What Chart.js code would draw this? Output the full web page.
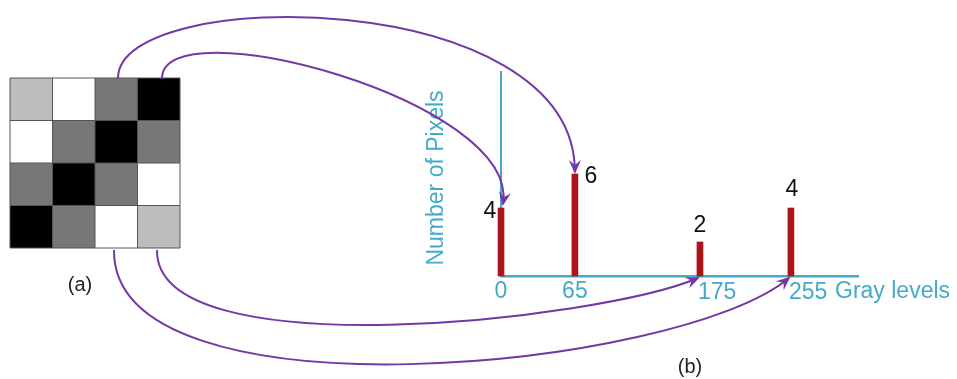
<!DOCTYPE html>
<html>
<head>
<meta charset="utf-8">
<script src="https://cdn.jsdelivr.net/npm/chart.js@4"></script>
<style>
  body { margin: 0; background: #fff; }
  #wrap { width: 957px; height: 379px; position: relative; }
</style>
</head>
<body>
<div id="wrap"><canvas id="myChart"></canvas></div>
<script>
// histogram data
const grayLevels = [0, 65, 175, 255];
const pixelCounts = [4, 6, 2, 4];
const tickLabels = ['0', '65', '175', '255'];

// the 4x4 image (a)
const imageRows = [
    [175, 255, 65, 0],
    [255, 65, 0, 65],
    [65, 0, 65, 255],
    [0, 65, 255, 175]
];

const blue = '#45a9c9';
const purple = '#7438a6';
const font = '"Liberation Sans", Arial, sans-serif';

//display shade for each gray level in the picture
function shadeFor(level) {
    if (level === 0) return '#000000';
    if (level === 65) return '#777777';
    if (level === 175) return '#bdbdbd';
    return '#ffffff';
}

//cubic curve with a notched arrow head at the end
function curvedArrow(ctx, p0, p1, p2, p3) {
    ctx.save();
    ctx.strokeStyle = purple;
    ctx.fillStyle = purple;
    ctx.lineWidth = 2;
    ctx.beginPath();
    ctx.moveTo(p0[0], p0[1]);
    ctx.bezierCurveTo(p1[0], p1[1], p2[0], p2[1], p3[0], p3[1]);
    ctx.stroke();

    let ang = Math.atan2(p3[1] - p2[1], p3[0] - p2[0]);
    ctx.translate(p3[0], p3[1]);
    ctx.rotate(ang);
    ctx.beginPath();
    ctx.moveTo(2, 0);
    ctx.lineTo(-12, -6);
    ctx.lineTo(-7, 0);
    ctx.lineTo(-12, 6);
    ctx.closePath();
    ctx.fill();
    ctx.restore();
}

const extrasPlugin = {
    id: 'extras',
    afterDatasetsDraw(chart) {
        const ctx = chart.ctx;
        const xs = chart.scales.x;
        const ys = chart.scales.y;
        const bars = chart.getDatasetMeta(0).data;

        //pixel grid
        let gx = 10, gy = 78, cell = 42.5;
        imageRows.forEach((row, r) => {
            row.forEach((v, c) => {
                ctx.fillStyle = shadeFor(v);
                ctx.fillRect(gx + c * cell, gy + r * cell, cell, cell);
            });
        });
        ctx.strokeStyle = '#555';
        ctx.lineWidth = 1;
        for (let i = 0; i <= 4; i++) {
            ctx.beginPath();
            ctx.moveTo(gx + i * cell, gy);
            ctx.lineTo(gx + i * cell, gy + 4 * cell);
            ctx.stroke();
            ctx.beginPath();
            ctx.moveTo(gx, gy + i * cell);
            ctx.lineTo(gx + 4 * cell, gy + i * cell);
            ctx.stroke();
        }

        ctx.fillStyle = '#222';
        ctx.font = '20px ' + font;
        ctx.textAlign = 'center';
        ctx.textBaseline = 'middle';
        ctx.fillText('(a)', 80, 285);
        ctx.fillText('(b)', 690, 367);

        //tick labels under the axis
        ctx.fillStyle = blue;
        ctx.font = '23px ' + font;
        ctx.textBaseline = 'middle';
        tickLabels.forEach((t, i) => {
            let px = xs.getPixelForValue(grayLevels[i]);
            if (i < 2) {
                ctx.textAlign = 'center';
                ctx.fillText(t, px, 292);
            } else {
                ctx.textAlign = 'left';
                ctx.fillText(t, px - 2, 293);
            }
        });
        ctx.textAlign = 'left';
        ctx.fillText('Gray levels', 835, 292);

        ctx.save();
        ctx.translate(437, 178);
        ctx.rotate(-Math.PI / 2);
        ctx.textAlign = 'center';
        ctx.fillText('Number of Pixels', 0, 0);
        ctx.restore();

        //count labels next to the bars
        ctx.fillStyle = '#111';
        ctx.textAlign = 'center';
        let offs = [[-11, 4], [16, 3], [0, -16], [1, -18]];
        bars.forEach((b, i) => {
            ctx.fillText(String(pixelCounts[i]), b.x + offs[i][0], b.y + offs[i][1]);
        });

        //arrows from the picture to the histogram
        let bx = bars.map(b => b.x);
        let by = bars.map(b => b.y);
        let base = ys.getPixelForValue(0);
        curvedArrow(ctx, [118, 78], [118, -15], [bx[1], -15], [bx[1], by[1] - 2]);
        curvedArrow(ctx, [162, 79], [160, 5], [520, 100], [bx[0] + 2, by[0] - 4]);
        curvedArrow(ctx, [157, 250], [155, 370], [600, 320], [bx[2] - 2, base + 2]);
        curvedArrow(ctx, [114, 250], [112, 425], [680, 370], [bx[3] - 2, base + 2]);
    }
};

let ctx = document.getElementById('myChart').getContext('2d');

let myChart = new Chart(ctx, {
    type: 'bar',
    data: {
        datasets: [{
            data: grayLevels.map((g, i) => ({ x: g, y: pixelCounts[i] })),
            backgroundColor: '#ad1419',
            barThickness: 6,
            clip: false
        }]
    },
    options: {
        responsive: true,
        maintainAspectRatio: false,
        animation: false,
        layout: {
            padding: { left: 501, right: 99, top: 72, bottom: 103 }
        },
        plugins: {
            legend: { display: false },
            tooltip: { enabled: false }
        },
        scales: {
            x: {
                type: 'linear',
                min: 0,
                max: 314,
                offset: false,
                grid: { display: false },
                ticks: { display: false },
                border: { color: blue, width: 2.5 },
                afterFit: s => { s.height = 0; }
            },
            y: {
                min: 0,
                max: 12,
                grid: { display: false },
                ticks: { display: false },
                border: { color: blue, width: 2 },
                afterFit: s => { s.width = 0; }
            }
        }
    },
    plugins: [extrasPlugin]
});
</script>
</body>
</html>
